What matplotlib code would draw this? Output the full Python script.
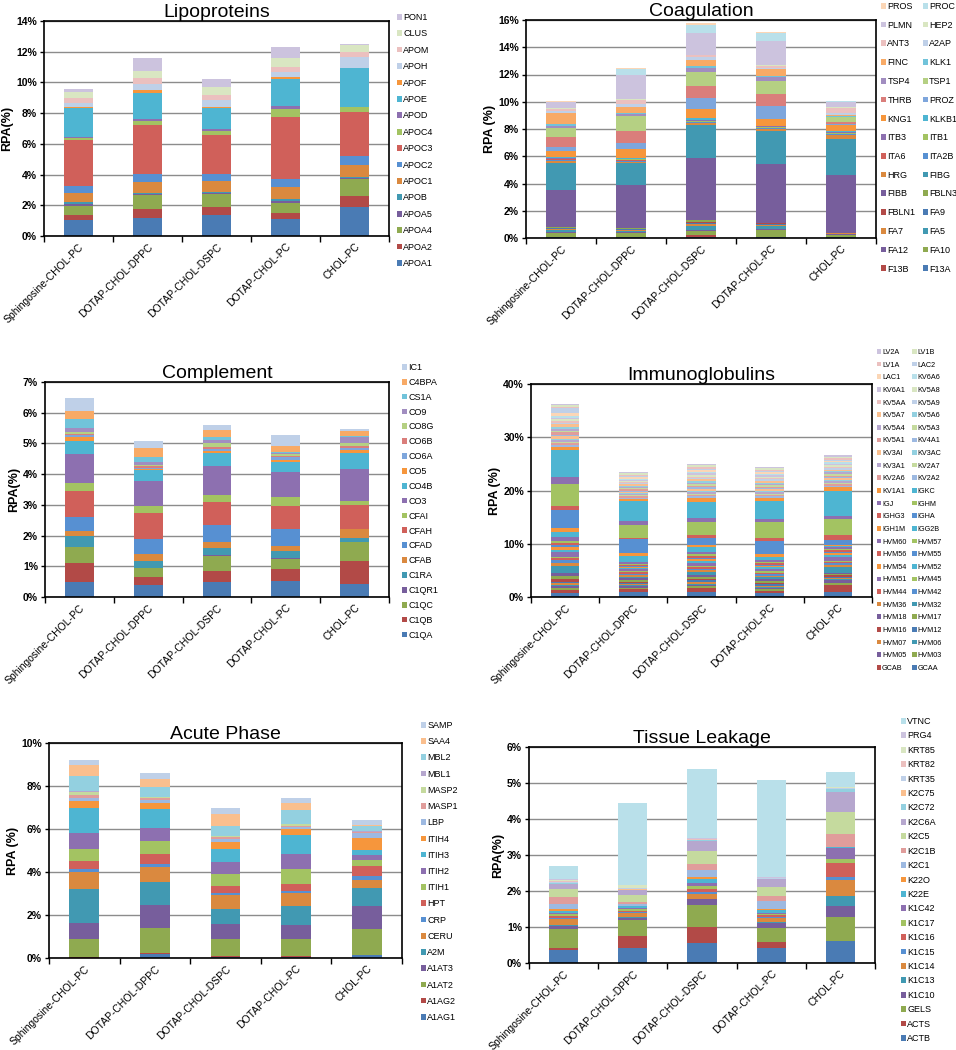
import numpy as np
import matplotlib
matplotlib.use('Agg')
import matplotlib.pyplot as plt
from matplotlib.ticker import FuncFormatter, MultipleLocator

plt.rcParams['font.family'] = ['Liberation Sans', 'DejaVu Sans']

######################
#       DADOS        #
######################
cats = ['Sphingosine-CHOL-PC', 'DOTAP-CHOL-DPPC', 'DOTAP-CHOL-DSPC', 'DOTAP-CHOL-PC', 'CHOL-PC']

# topo acumulado de cada segmento (%), uma lista por barra
lipo_names = ['APOA1', 'APOA2', 'APOA4', 'APOA5', 'APOB', 'APOC1', 'APOC2', 'APOC3', 'APOC4', 'APOD',
              'APOE', 'APOF', 'APOH', 'APOM', 'CLUS', 'PON1']
lipo_tops = [
    [1.04, 1.37, 1.97, 2.06, 2.19, 2.82, 3.25, 6.25, 6.35, 6.46, 8.35, 8.40, 8.68, 8.96, 9.35, 9.54],
    [1.19, 1.76, 2.65, 2.73, 2.82, 3.51, 4.03, 7.22, 7.50, 7.61, 9.33, 9.48, 9.93, 10.30, 10.76, 11.56],
    [1.37, 1.87, 2.71, 2.78, 2.89, 3.58, 4.03, 6.55, 6.83, 6.94, 8.35, 8.42, 8.85, 9.20, 9.67, 10.22],
    [1.11, 1.48, 2.17, 2.28, 2.41, 3.17, 3.69, 7.72, 8.26, 8.46, 10.22, 10.33, 10.69, 11.02, 11.56, 12.28],
    [1.91, 2.62, 3.69, 3.75, 3.86, 4.62, 5.23, 8.09, 8.37, 8.42, 10.93, 10.95, 11.67, 11.95, 12.43, 12.47],
]

coag_names = ['F13A', 'F13B', 'FA10', 'FA12', 'FA5', 'FA7', 'FA9', 'FBLN1', 'FBLN3', 'FIBB', 'FIBG', 'HRG',
              'ITA2B', 'ITA6', 'ITB1', 'ITB3', 'KLKB1', 'KNG1', 'PROZ', 'THRB', 'TSP1', 'TSP4', 'KLK1', 'FINC',
              'A2AP', 'ANT3', 'HEP2', 'PLMN', 'PROC', 'PROS']
coag_tops = [
    [0.05, 0.08, 0.38, 0.42, 0.60, 0.68, 0.72, 0.76, 0.80, 3.50, 5.50, 5.65, 5.73, 5.78, 5.83, 5.88, 5.95,
     6.36, 6.67, 7.43, 8.07, 8.25, 8.35, 9.17, 9.30, 9.45, 9.55, 9.95, 10.00, 10.08],
    [0.05, 0.08, 0.38, 0.42, 0.55, 0.60, 0.64, 0.67, 0.70, 3.86, 5.50, 5.60, 5.68, 5.73, 5.78, 5.83, 5.90,
     6.50, 6.97, 7.87, 8.92, 9.10, 9.20, 9.60, 9.85, 10.15, 10.20, 12.00, 12.40, 12.48],
    [0.05, 0.20, 0.55, 0.60, 0.90, 1.00, 1.10, 1.15, 1.30, 5.84, 8.29, 8.45, 8.50, 8.55, 8.60, 8.65, 8.80,
     9.46, 10.27, 11.17, 12.22, 12.50, 12.60, 13.08, 13.25, 13.40, 13.45, 15.08, 15.65, 15.75],
    [0.05, 0.10, 0.60, 0.65, 0.90, 0.95, 1.03, 1.07, 1.10, 5.45, 7.87, 8.00, 8.05, 8.10, 8.15, 8.20, 8.25,
     8.75, 9.66, 10.54, 11.54, 11.85, 11.90, 12.40, 12.50, 12.65, 12.70, 14.45, 15.08, 15.12],
    [0.05, 0.07, 0.25, 0.28, 0.32, 0.34, 0.36, 0.37, 0.38, 4.65, 7.29, 7.58, 7.62, 7.66, 7.72, 7.80, 7.86,
     8.31, 8.36, 8.50, 8.85, 8.90, 8.95, 9.02, 9.17, 9.53, 9.58, 10.00, 10.03, 10.06],
]

comp_names = ['C1QA', 'C1QB', 'C1QC', 'C1QR1', 'C1RA', 'CFAB', 'CFAD', 'CFAH', 'CFAI', 'CO3', 'CO4B', 'CO5',
              'CO6A', 'CO6B', 'CO8G', 'CO9', 'CS1A', 'C4BPA', 'IC1']
comp_tops = [
    [0.48, 1.10, 1.62, 1.63, 2.00, 2.15, 2.60, 3.46, 3.70, 4.67, 5.07, 5.20, 5.26, 5.32, 5.38, 5.49, 5.78, 6.07, 6.48],
    [0.38, 0.65, 0.93, 0.95, 1.18, 1.40, 1.90, 2.72, 2.95, 3.78, 4.13, 4.16, 4.21, 4.26, 4.31, 4.41, 4.56, 4.84, 5.09],
    [0.48, 0.86, 1.35, 1.37, 1.59, 1.80, 2.35, 3.09, 3.33, 4.28, 4.68, 4.75, 4.82, 4.90, 5.00, 5.12, 5.22, 5.43, 5.61],
    [0.52, 0.90, 1.25, 1.28, 1.50, 1.65, 2.21, 2.97, 3.24, 4.08, 4.41, 4.47, 4.55, 4.60, 4.65, 4.70, 4.73, 4.93, 5.27],
    [0.43, 1.18, 1.78, 1.80, 1.92, 2.21, 2.23, 3.00, 3.12, 4.17, 4.69, 4.78, 4.85, 4.92, 5.02, 5.21, 5.25, 5.40, 5.47],
]

# imunoglobulinas: altura de cada segmento (%)
ig_names = ['GCAA', 'GCAB', 'HVM03', 'HVM05', 'HVM06', 'HVM07', 'HVM12', 'HVM16', 'HVM17', 'HVM18', 'HVM32',
            'HVM36', 'HVM42', 'HVM44', 'HVM45', 'HVM51', 'HVM52', 'HVM54', 'HVM55', 'HVM56', 'HVM57', 'HVM60',
            'IGG2B', 'IGH1M', 'IGHA', 'IGHG3', 'IGHM', 'IGJ', 'IGKC', 'KV1A1', 'KV2A2', 'KV2A6', 'KV2A7',
            'KV3A1', 'KV3AC', 'KV3AI', 'KV4A1', 'KV5A1', 'KV5A3', 'KV5A4', 'KV5A6', 'KV5A7', 'KV5A9', 'KV5AA',
            'KV5A8', 'KV6A1', 'KV6A6', 'LAC1', 'LAC2', 'LV1A', 'LV1B', 'LV2A']
ig_vals = [
    [0.8, 0.6, 0.3, 0.4, 0.2, 0.3, 0.3, 0.4, 0.6, 0.6, 1.3, 0.5, 0.7, 0.3, 0.3, 0.9, 0.3, 0.5, 0.5, 0.4, 0.3, 0.8,
     1.0, 0.6, 3.5, 0.6, 4.2, 1.4, 5.0, 0.6,
     0.3, 0.4, 0.3, 0.3, 0.2, 0.5, 0.3, 0.4, 0.3, 0.3, 0.4, 0.5, 0.3, 0.3, 0.4, 0.3, 0.3, 0.5, 1.0, 0.2, 0.3, 0.3],
    [1.0, 0.5, 0.2, 0.3, 0.2, 0.2, 0.2, 0.3, 0.3, 0.3, 0.3, 0.3, 0.3, 0.3, 0.2, 0.3, 0.2, 0.2, 0.2, 0.2, 0.2, 0.3,
     1.2, 0.5, 2.6, 0.3, 2.4, 0.8, 3.7, 0.4,
     0.2, 0.3, 0.2, 0.2, 0.2, 0.3, 0.2, 0.2, 0.2, 0.2, 0.3, 0.3, 0.2, 0.2, 0.2, 0.2, 0.2, 0.3, 0.3, 0.2, 0.2, 0.2],
    [1.0, 0.7, 0.3, 0.3, 0.2, 0.3, 0.3, 0.3, 0.3, 0.4, 0.6, 0.3, 0.3, 0.3, 0.3, 0.5, 0.3, 0.4, 0.3, 0.3, 0.4, 0.3,
     0.9, 0.4, 1.4, 0.5, 2.5, 0.7, 3.1, 0.7,
     0.3, 0.3, 0.2, 0.3, 0.3, 0.3, 0.3, 0.3, 0.3, 0.3, 0.3, 0.3, 0.3, 0.2, 0.3, 0.3, 0.3, 0.3, 0.3, 0.3, 0.3, 0.3],
    [0.7, 0.5, 0.3, 0.2, 0.2, 0.2, 0.3, 0.3, 0.3, 0.3, 0.4, 0.3, 0.3, 0.3, 0.3, 0.4, 0.3, 0.3, 0.2, 0.3, 0.2, 0.3,
     0.7, 0.5, 2.5, 0.5, 2.9, 0.7, 3.4, 0.5,
     0.3, 0.2, 0.3, 0.3, 0.2, 0.3, 0.3, 0.2, 0.3, 0.3, 0.2, 0.3, 0.3, 0.2, 0.3, 0.3, 0.2, 0.3, 0.3, 0.2, 0.3, 0.2],
    [1.0, 1.3, 0.3, 0.5, 0.3, 0.2, 0.2, 0.3, 0.2, 0.3, 1.1, 0.3, 0.3, 0.3, 0.2, 0.8, 0.3, 0.4, 0.2, 0.3, 0.2, 0.3,
     0.2, 0.2, 1.0, 0.9, 3.1, 0.5, 4.8, 0.6,
     0.3, 0.3, 0.2, 0.3, 0.3, 0.3, 0.2, 0.3, 0.3, 0.3, 0.2, 0.3, 0.3, 0.3, 0.2, 0.3, 0.3, 0.2, 0.3, 0.3, 0.2, 0.3],
]

acute_names = ['A1AG1', 'A1AG2', 'A1AT2', 'A1AT3', 'A2M', 'CERU', 'CRP', 'HPT', 'ITIH1', 'ITIH2', 'ITIH3',
               'ITIH4', 'LBP', 'MASP1', 'MASP2', 'MBL1', 'MBL2', 'SAA4', 'SAMP']
acute_tops = [
    [0.02, 0.04, 0.90, 1.64, 3.22, 4.02, 4.12, 4.50, 5.05, 5.80, 6.97, 7.28, 7.42, 7.60, 7.70, 7.78, 8.48, 8.98, 9.20],
    [0.17, 0.25, 1.41, 2.46, 3.54, 4.23, 4.35, 4.86, 5.42, 6.05, 6.93, 7.23, 7.33, 7.42, 7.47, 7.50, 7.94, 8.33, 8.60],
    [0.05, 0.07, 0.90, 1.59, 2.26, 2.91, 3.02, 3.37, 3.92, 4.46, 5.06, 5.39, 5.55, 5.62, 5.66, 5.68, 6.15, 6.69, 7.00],
    [0.05, 0.07, 0.87, 1.53, 2.40, 3.03, 3.13, 3.42, 4.12, 4.85, 5.70, 5.98, 6.08, 6.15, 6.22, 6.25, 6.87, 7.21, 7.43],
    [0.12, 0.14, 1.35, 2.41, 3.25, 3.61, 3.82, 4.29, 4.55, 4.78, 5.03, 5.57, 5.82, 5.85, 5.87, 5.90, 6.15, 6.18, 6.41],
]

tissue_names = ['ACTB', 'ACTS', 'GELS', 'K1C10', 'K1C13', 'K1C14', 'K1C15', 'K1C16', 'K1C17', 'K1C42', 'K22E',
                'K22O', 'K2C1', 'K2C1B', 'K2C5', 'K2C6A', 'K2C72', 'K2C75', 'KRT35', 'KRT82', 'KRT85', 'PRG4', 'VTNC']
tissue_tops = [
    [0.36, 0.41, 0.95, 1.03, 1.05, 1.22, 1.25, 1.30, 1.37, 1.40, 1.45, 1.50, 1.65, 1.83, 2.06, 2.20, 2.21, 2.22,
     2.25, 2.27, 2.30, 2.34, 2.69],
    [0.42, 0.74, 1.19, 1.25, 1.27, 1.40, 1.42, 1.45, 1.50, 1.52, 1.57, 1.59, 1.64, 1.70, 1.88, 2.02, 2.04, 2.05,
     2.07, 2.09, 2.16, 2.17, 4.44],
    [0.56, 1.01, 1.61, 1.77, 1.79, 1.93, 1.96, 2.06, 2.13, 2.22, 2.32, 2.40, 2.59, 2.76, 3.10, 3.40, 3.41, 3.42,
     3.43, 3.44, 3.45, 3.46, 5.38],
    [0.42, 0.57, 0.98, 1.12, 1.14, 1.26, 1.28, 1.32, 1.35, 1.38, 1.48, 1.50, 1.71, 1.85, 2.12, 2.32, 2.33, 2.34,
     2.35, 2.36, 2.37, 2.38, 5.09],
    [0.60, 0.61, 1.28, 1.58, 1.86, 2.30, 2.39, 2.77, 2.88, 3.20, 3.21, 3.22, 3.23, 3.57, 4.19, 4.75, 4.82, 4.83,
     4.85, 4.86, 4.89, 4.90, 5.30],
]

# paleta estilo excel: 6 tons, do mais escuro ao mais claro
palette = [
    ['#4A7BB4', '#B24A47', '#8FAA50', '#775E9C', '#4199B2', '#DA893F'],
    ['#5790D2', '#D0605A', '#A3C362', '#8D70B0', '#4EB5D2', '#F6963C'],
    ['#7EA6DC', '#DA7E7B', '#B5D083', '#A18DC0', '#71C3DA', '#F8AA66'],
    ['#9DB9E1', '#E09D9B', '#C5DA9E', '#B6A7CE', '#93D0E0', '#FABF8E'],
    ['#BFD0E8', '#EBC0BF', '#D9E6C2', '#CCC3DE', '#B9E0EA', '#FBD6B6'],
]

W, H = 956, 1050
fig = plt.figure(figsize=(W / 100, H / 100), dpi=100)


def tops_to_heights(tops):
    t = np.array(tops)
    return np.diff(np.hstack([np.zeros((t.shape[0], 1)), t]), axis=1)


def panel(box, title, names, heights, ymax, ystep, ylabel, tiers, leg_xy, ncol=1, leg_fs=6.5, leg_sp=0.6):
    l, t, r, b = box
    ax = fig.add_axes([l / W, 1 - b / H, (r - l) / W, (b - t) / H])
    heights = np.array(heights)
    x = np.arange(len(cats)) + 0.5
    bottom = np.zeros(len(cats))
    handles = []
    for j, name in enumerate(names):
        c = palette[tiers[j // 6]][j % 6]
        bars = ax.bar(x, heights[:, j], bottom=bottom, width=0.42, color=c, edgecolor='none', label=name)
        bottom = bottom + heights[:, j]
        handles.append(bars)

    ax.set_xlim(0, 5)
    ax.set_ylim(0, ymax)
    ax.yaxis.set_major_locator(MultipleLocator(ystep))
    ax.yaxis.set_major_formatter(FuncFormatter(lambda v, p: '%d%%' % round(v)))
    ax.yaxis.grid(True, color='#8c8c8c', lw=1.0)
    ax.set_axisbelow(True)
    ax.set_xticks(np.arange(0, 6))
    ax.set_xticklabels([])
    ax.set_xticks(x, minor=True)
    ax.set_xticklabels(cats, minor=True, rotation=45, ha='right', va='top', fontsize=7.5,
                       rotation_mode='anchor')
    ax.tick_params(axis='x', which='minor', length=0, pad=4)
    ax.tick_params(axis='x', which='major', length=4, width=1, direction='out')
    ax.tick_params(axis='y', length=3, width=1, direction='out', labelsize=7.5, pad=2)
    for lab in ax.get_yticklabels():
        lab.set_fontweight('bold')
    for s in ax.spines.values():
        s.set_linewidth(1.2)
    ax.set_ylabel(ylabel, fontsize=9, fontweight='bold', labelpad=2)
    ax.set_title(title, fontsize=14, pad=1)

    # legenda na ordem inversa, como no excel
    rev = handles[::-1]
    labs = names[::-1]
    if ncol == 2:
        rev = rev[0::2] + rev[1::2]
        labs = labs[0::2] + labs[1::2]
    fig.legend(rev, labs, loc='upper left', bbox_to_anchor=(leg_xy[0] / W, 1 - leg_xy[1] / H),
               bbox_transform=fig.transFigure, ncol=ncol, frameon=False, fontsize=leg_fs,
               handlelength=0.6, handleheight=0.6, handletextpad=0.1, labelspacing=leg_sp,
               columnspacing=0.8, borderpad=0, borderaxespad=0)
    return ax


panel((44, 21, 389, 236), 'Lipoproteins', lipo_names, tops_to_heights(lipo_tops), 14, 2, 'RPA(%)',
      [0, 1, 4], (397, 13), leg_fs=6.5, leg_sp=0.82)
panel((526, 20, 876, 238), 'Coagulation', coag_names, tops_to_heights(coag_tops), 16, 2, 'RPA (%)',
      [0, 0, 1, 2, 4], (881, 2), ncol=2, leg_fs=6.5, leg_sp=1.08)
panel((45, 382, 389, 597), 'Complement', comp_names, tops_to_heights(comp_tops), 7, 1, 'RPA(%)',
      [0, 1, 2, 4], (402, 363), leg_fs=6.5, leg_sp=0.65)
panel((531, 384, 872, 597), 'Immunoglobulins', ig_names, ig_vals, 40, 10, 'RPA (%)',
      [0, 0, 1, 1, 1, 3, 3, 4, 4], (877, 349), ncol=2, leg_fs=5.2, leg_sp=0.78)
panel((49, 743, 402, 958), 'Acute Phase', acute_names, tops_to_heights(acute_tops), 10, 2, 'RPA (%)',
      [0, 1, 3, 4], (421, 721), leg_fs=6.5, leg_sp=0.8)
panel((529, 747, 875, 963), 'Tissue Leakage', tissue_names, tops_to_heights(tissue_tops), 6, 1, 'RPA(%)',
      [0, 1, 3, 4], (901, 717), leg_fs=6.5, leg_sp=0.6)

fig.savefig('out.png', dpi=100)
